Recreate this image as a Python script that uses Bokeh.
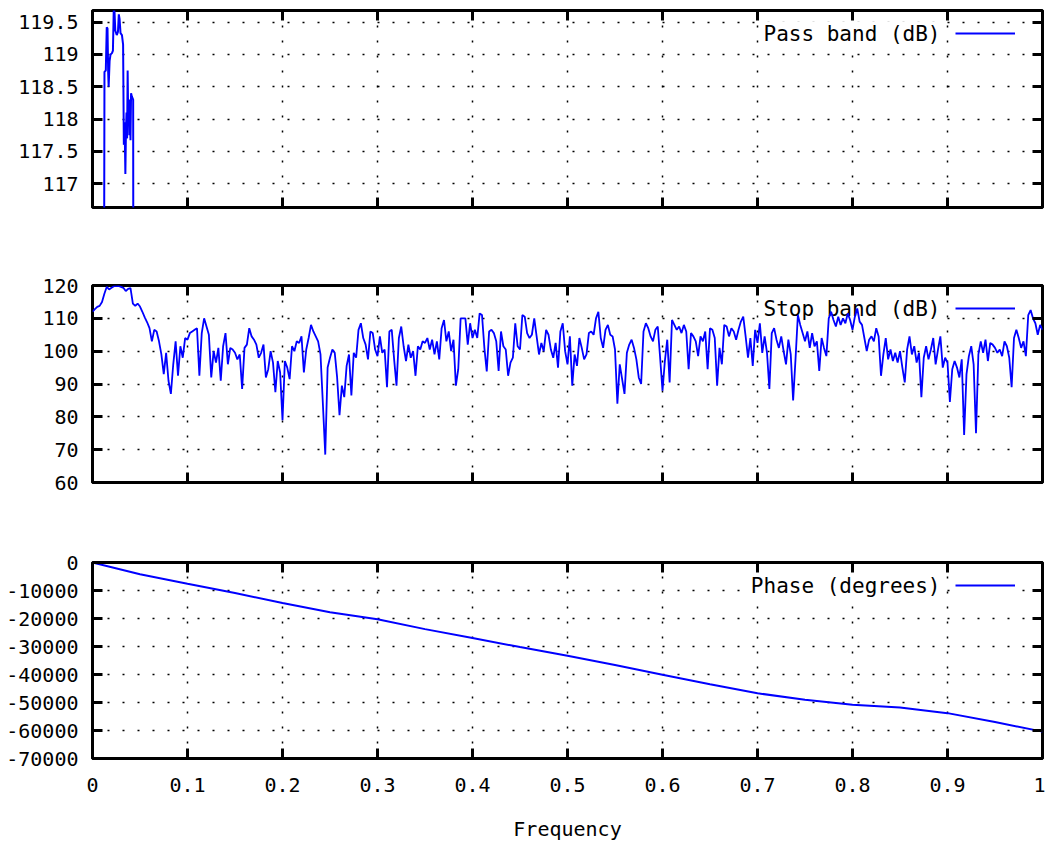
from bokeh.plotting import figure
from bokeh.layouts import column
from bokeh.models import (Range1d, FixedTicker, PrintfTickFormatter, LinearAxis,
                          Label, Legend, LegendItem)
from bokeh.embed import file_html
from bokeh.resources import INLINE

# ---------------- data ----------------
freq_ticks = [0, 0.1, 0.2, 0.3, 0.4, 0.5, 0.6, 0.7, 0.8, 0.9, 1]
pass_ticks = [117, 117.5, 118, 118.5, 119, 119.5]
stop_ticks = [60, 70, 80, 90, 100, 110, 120]
phase_ticks = [-70000, -60000, -50000, -40000, -30000, -20000, -10000, 0]

# pass band (zoomed view of the top of the response)
pass_freq = [0.0120, 0.0126, 0.0140, 0.0150, 0.0158, 0.0165, 0.0170, 0.0180,
             0.0190, 0.0205, 0.0215, 0.0224, 0.0232, 0.0240, 0.0255, 0.0268,
             0.0277, 0.0285, 0.0295, 0.0310, 0.0322, 0.0330, 0.0338, 0.0346,
             0.0352, 0.0358, 0.0364, 0.0370, 0.0376, 0.0382, 0.0388, 0.0394,
             0.0400, 0.0406, 0.0414, 0.0428, 0.0430]
pass_db = [114.0, 118.73, 118.75, 119.42, 119.40, 118.72, 118.50, 118.90,
           119.00, 119.02, 119.06, 119.72, 119.65, 119.37, 119.30, 119.35,
           119.62, 119.55, 119.33, 119.30, 119.15, 117.60, 117.95, 117.15,
           117.80, 118.10, 117.70, 118.75, 118.00, 118.25, 117.75, 118.30,
           117.67, 118.40, 118.35, 118.30, 115.0]

# stop band, sampled every 0.0025 from 0 to 1
stop_db = [
    112.0, 112.8, 113.5, 113.8, 115.0, 117.5, 119.6, 118.8, 119.3, 119.8,
    119.8, 119.9, 119.6, 119.3, 118.3, 119.0, 119.2, 114.5, 113.8, 114.5,
    113.6, 112.0, 110.3, 108.8, 107.0, 103.0, 106.5, 106.0, 103.0, 99.0,
    93.0, 99.5, 91.0, 87.0, 96.0, 103.0, 92.5, 101.5, 98.0, 104.0,
    103.5, 105.5, 106.0, 106.5, 107.0, 92.5, 105.5, 110.0, 107.5, 105.0,
    92.0, 100.0, 96.5, 101.0, 91.0, 101.5, 105.5, 96.0, 101.0, 100.5,
    99.5, 97.5, 99.0, 88.5, 101.0, 102.0, 107.0, 104.5, 103.5, 102.0,
    98.0, 99.5, 102.0, 92.0, 94.5, 100.0, 96.5, 87.5, 97.0, 93.5,
    79.0, 97.0, 95.0, 91.5, 101.5, 100.0, 103.0, 102.5, 104.5, 93.5,
    100.5, 104.0, 108.0, 106.0, 104.5, 103.0, 99.0, 84.0, 68.5, 95.0,
    98.0, 100.5, 99.5, 92.0, 80.5, 89.5, 86.0, 95.5, 99.0, 86.5,
    99.5, 98.0, 106.5, 108.5, 104.0, 102.0, 97.5, 106.0, 105.5, 100.5,
    98.5, 104.5, 99.5, 100.5, 89.0, 106.0, 106.5, 97.5, 89.5, 104.0,
    107.5, 101.5, 97.0, 102.0, 98.0, 100.0, 92.5, 101.5, 100.5, 103.0,
    102.5, 104.0, 100.5, 103.5, 99.0, 103.0, 97.5, 107.0, 109.5, 103.0,
    106.0, 100.0, 103.5, 89.5, 94.5, 110.0, 110.0, 110.0, 102.0, 108.5,
    104.0, 106.5, 104.0, 111.5, 111.0, 101.0, 93.8, 106.0, 106.5, 105.5,
    103.0, 94.0, 106.0, 101.5, 100.5, 92.5, 96.5, 98.0, 108.5, 101.5,
    100.5, 111.0, 110.5, 105.5, 104.0, 105.0, 110.0, 104.5, 99.0, 102.5,
    100.0, 106.5, 105.0, 100.5, 98.0, 102.5, 95.0, 106.0, 108.5, 100.0,
    96.0, 104.5, 89.5, 99.0, 95.5, 104.0, 101.0, 97.5, 99.0, 105.5,
    106.0, 105.0, 110.0, 112.0, 104.0, 101.0, 106.5, 108.0, 105.0, 104.5,
    100.5, 84.0, 96.0, 91.5, 87.0, 99.5, 102.0, 103.5, 101.0, 97.5,
    92.0, 90.0, 106.0, 108.5, 107.0, 104.5, 103.0, 106.5, 107.5, 98.0,
    88.0, 97.0, 103.5, 90.5, 109.5, 108.0, 106.5, 107.5, 105.5, 108.0,
    106.0, 94.5, 105.5, 104.5, 103.0, 98.5, 104.5, 103.0, 106.0, 94.5,
    107.0, 106.5, 104.0, 89.5, 101.0, 96.0, 108.0, 107.5, 104.5, 107.0,
    106.0, 103.5, 106.5, 109.0, 110.5, 104.5, 98.0, 104.0, 95.5, 106.5,
    102.5, 108.5, 99.5, 104.5, 99.5, 88.5, 105.5, 107.0, 103.5, 101.0,
    104.5, 100.0, 96.0, 103.5, 99.0, 85.0, 97.5, 111.0, 108.0, 105.5,
    103.0, 106.0, 101.0, 105.5, 101.5, 103.0, 94.0, 104.0, 101.0, 98.5,
    110.0, 112.0, 109.5, 107.5, 110.5, 108.0, 110.0, 108.5, 111.5, 109.5,
    106.5, 110.5, 113.0, 109.0, 108.0, 104.0, 100.0, 103.5, 104.5, 103.0,
    107.0, 104.5, 92.5, 99.0, 104.0, 97.5, 100.5, 97.0, 99.5, 96.5,
    100.0, 95.0, 90.5, 100.5, 104.5, 99.0, 101.5, 96.5, 99.5, 86.0,
    98.0, 101.5, 97.5, 100.5, 104.0, 96.0, 100.5, 104.5, 95.0, 98.0,
    96.5, 84.5, 94.5, 97.0, 95.0, 92.0, 97.5, 74.5, 93.0, 98.5,
    101.5, 96.0, 75.0, 99.0, 103.0, 99.5, 103.5, 97.0, 102.5, 102.0,
    101.0, 99.5, 100.5, 98.5, 103.0, 101.5, 98.0, 89.0, 104.0, 106.5,
    104.0, 101.0, 103.0, 98.5, 111.0, 112.5, 110.0, 108.5, 105.0, 108.0,
    106.5,
]
stop_step = 0.0025
stop_freq = [i * stop_step for i in range(len(stop_db))]

phase_freq = [0, 0.05, 0.1, 0.15, 0.2, 0.25, 0.3, 0.35, 0.4, 0.45, 0.5,
              0.55, 0.6, 0.65, 0.7, 0.75, 0.8, 0.85, 0.9, 0.95, 1.0]
phase_deg = [0, -4200, -7600, -10900, -14500, -17800, -20300, -23800, -27000,
             -30200, -33300, -36600, -40100, -43500, -46700, -49000, -50800,
             -51800, -53800, -57000, -60400]

# ---------------- styling ----------------
FONT = "DejaVu Sans Mono"
FSIZE = "20px"
KEY_FSIZE = "21px"
BLUE = "#0000ff"
W = 1045
LEFT = 92
RIGHT = 3


def style_axis(ax, ticks, labels, standoff=12):
    ax.ticker = FixedTicker(ticks=ticks)
    ax.formatter = PrintfTickFormatter(format="%g")
    ax.axis_line_color = None
    ax.major_tick_in = 10
    ax.major_tick_out = 0
    ax.major_tick_line_width = 3
    ax.major_tick_line_color = "black"
    ax.minor_tick_line_color = None
    if labels:
        ax.major_label_text_font = FONT
        ax.major_label_text_font_size = FSIZE
        ax.major_label_text_color = "black"
        ax.major_label_standoff = standoff
    else:
        ax.major_label_text_color = None
        ax.major_label_text_font_size = "1px"
        ax.major_label_standoff = 0


def panel(yr, yticks, top, frame_h, bottom, xlabels):
    p = figure(width=W, height=top + frame_h + bottom,
               x_range=Range1d(0, 1), y_range=Range1d(*yr),
               output_backend="svg", toolbar_location=None,
               min_border_left=LEFT, min_border_right=RIGHT,
               min_border_top=top, min_border_bottom=bottom)
    p.add_layout(LinearAxis(), "above")
    p.add_layout(LinearAxis(), "right")
    style_axis(p.below[0], freq_ticks, xlabels, standoff=19)
    style_axis(p.above[0], freq_ticks, False)
    style_axis(p.left[0], yticks, True, standoff=14)
    style_axis(p.right[0], yticks, False)
    for g, t in ((p.xgrid[0], freq_ticks), (p.ygrid[0], yticks)):
        g.ticker = FixedTicker(ticks=t)
        g.grid_line_color = "black"
        g.grid_line_width = 1.5
        g.grid_line_dash = "2 13"
    p.outline_line_color = "black"
    p.outline_line_width = 3
    p.outline_line_alpha = 1
    p.background_fill_color = "white"
    p.border_fill_color = "white"
    return p


def add_key(p, renderer, text, frame_h):
    ky = frame_h - 23
    fw = W - LEFT - RIGHT
    lbl = Label(x=fw - 102, y=ky, x_units="screen", y_units="screen",
                text=text, text_align="right", text_baseline="middle",
                text_font=FONT, text_font_size=KEY_FSIZE, text_color="black",
                background_fill_color="white", level="underlay")
    p.add_layout(lbl)
    leg = Legend(items=[LegendItem(label=" ", renderers=[renderer])],
                 location=(fw - 87, ky - 8),
                 glyph_width=60, glyph_height=16, padding=0, spacing=0, margin=0,
                 label_standoff=0, label_width=0, label_height=0,
                 label_text_font_size="1px",
                 border_line_color=None, background_fill_color="white",
                 background_fill_alpha=1, level="underlay")
    p.add_layout(leg)


p1 = panel((116.63, 119.68), pass_ticks, 10, 197, 38, False)
r1 = p1.line(pass_freq, pass_db, line_color=BLUE, line_width=2)
add_key(p1, r1, "Pass band (dB)", 197)

p2 = panel((60, 120), stop_ticks, 40, 197, 38, False)
r2 = p2.line(stop_freq, stop_db, line_color=BLUE, line_width=1.8)
add_key(p2, r2, "Stop band (dB)", 197)

p3 = panel((-70000, 0), phase_ticks, 42, 196, 85, True)
r3 = p3.line(phase_freq, phase_deg, line_color=BLUE, line_width=2)
add_key(p3, r3, "Phase (degrees)", 196)
p3.below[0].axis_label = "Frequency"
p3.below[0].axis_label_text_font = FONT
p3.below[0].axis_label_text_font_size = FSIZE
p3.below[0].axis_label_text_font_style = "normal"
p3.below[0].axis_label_text_color = "black"
p3.below[0].axis_label_standoff = 22

layout = column(p1, p2, p3, spacing=0)
open("out.html", "w").write(file_html(layout, INLINE))
